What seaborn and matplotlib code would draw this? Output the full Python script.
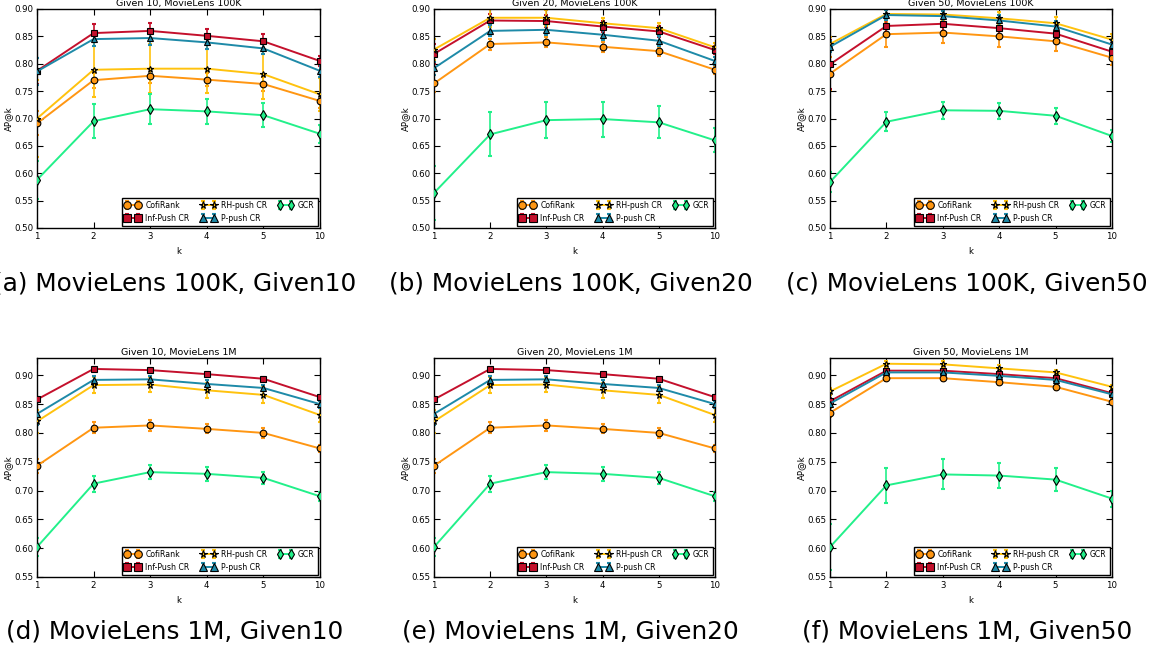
"""AP@k vs k for push-based collaborative ranking on MovieLens (six panels)."""

import matplotlib
matplotlib.use("Agg")
import matplotlib.pyplot as plt
from matplotlib.legend_handler import HandlerTuple
import numpy as np
import pandas as pd
import seaborn as sns

# ---------------------------------------------------------------- data
K_LABELS = ["1", "2", "3", "4", "5", "10"]
METHODS = ["CofiRank", "Inf-Push CR", "RH-push CR", "P-push CR", "GCR"]
COLORS = ["#FF9612", "#C4102C", "#FFC20E", "#1E8AA8", "#22F08A"]
MARKERS = ["o", "s", "*", "^", "d"]

# MovieLens 100K, Given 10
ML100K_G10 = {
    "CofiRank":    [0.691, 0.770, 0.778, 0.771, 0.763, 0.732],
    "Inf-Push CR": [0.787, 0.856, 0.860, 0.851, 0.841, 0.805],
    "RH-push CR":  [0.700, 0.789, 0.791, 0.791, 0.781, 0.744],
    "P-push CR":   [0.786, 0.845, 0.847, 0.839, 0.828, 0.787],
    "GCR":         [0.588, 0.695, 0.717, 0.713, 0.706, 0.672],
}
ML100K_G10_ERR = {
    "CofiRank":    [0.022, 0.014, 0.013, 0.012, 0.012, 0.012],
    "Inf-Push CR": [0.024, 0.017, 0.015, 0.013, 0.013, 0.010],
    "RH-push CR":  [0.070, 0.050, 0.045, 0.045, 0.045, 0.030],
    "P-push CR":   [0.025, 0.012, 0.012, 0.012, 0.010, 0.012],
    "GCR":         [0.035, 0.031, 0.027, 0.023, 0.022, 0.017],
}

# MovieLens 100K, Given 20
ML100K_G20 = {
    "CofiRank":    [0.764, 0.836, 0.839, 0.831, 0.823, 0.789],
    "Inf-Push CR": [0.818, 0.879, 0.878, 0.868, 0.859, 0.825],
    "RH-push CR":  [0.826, 0.884, 0.884, 0.874, 0.865, 0.830],
    "P-push CR":   [0.792, 0.860, 0.862, 0.853, 0.842, 0.805],
    "GCR":         [0.564, 0.671, 0.697, 0.699, 0.693, 0.660],
}
ML100K_G20_ERR = {
    "CofiRank":    [0.015, 0.010, 0.009, 0.009, 0.008, 0.007],
    "Inf-Push CR": [0.018, 0.012, 0.011, 0.010, 0.010, 0.008],
    "RH-push CR":  [0.020, 0.016, 0.015, 0.010, 0.009, 0.008],
    "P-push CR":   [0.012, 0.010, 0.010, 0.009, 0.009, 0.008],
    "GCR":         [0.050, 0.040, 0.033, 0.032, 0.029, 0.022],
}

# MovieLens 100K, Given 50
ML100K_G50 = {
    "CofiRank":    [0.782, 0.854, 0.857, 0.850, 0.841, 0.811],
    "Inf-Push CR": [0.799, 0.869, 0.873, 0.865, 0.855, 0.822],
    "RH-push CR":  [0.836, 0.891, 0.890, 0.883, 0.874, 0.844],
    "P-push CR":   [0.831, 0.889, 0.887, 0.879, 0.868, 0.835],
    "GCR":         [0.584, 0.694, 0.715, 0.714, 0.705, 0.668],
}
ML100K_G50_ERR = {
    "CofiRank":    [0.030, 0.023, 0.020, 0.019, 0.018, 0.014],
    "Inf-Push CR": [0.045, 0.015, 0.013, 0.012, 0.012, 0.010],
    "RH-push CR":  [0.012, 0.012, 0.012, 0.011, 0.011, 0.010],
    "P-push CR":   [0.010, 0.010, 0.010, 0.010, 0.010, 0.009],
    "GCR":         [0.018, 0.017, 0.015, 0.014, 0.015, 0.011],
}

# MovieLens 1M, Given 10 (Given 20 reads the same)
ML1M_G10 = {
    "CofiRank":    [0.743, 0.809, 0.813, 0.807, 0.800, 0.773],
    "Inf-Push CR": [0.858, 0.911, 0.909, 0.902, 0.894, 0.862],
    "RH-push CR":  [0.820, 0.883, 0.884, 0.874, 0.866, 0.831],
    "P-push CR":   [0.833, 0.892, 0.893, 0.885, 0.878, 0.850],
    "GCR":         [0.602, 0.712, 0.732, 0.729, 0.722, 0.690],
}
ML1M_G10_ERR = {
    "CofiRank":    [0.012, 0.010, 0.010, 0.008, 0.008, 0.006],
    "Inf-Push CR": [0.004, 0.003, 0.003, 0.003, 0.003, 0.003],
    "RH-push CR":  [0.020, 0.014, 0.013, 0.013, 0.014, 0.012],
    "P-push CR":   [0.020, 0.006, 0.006, 0.006, 0.006, 0.006],
    "GCR":         [0.015, 0.014, 0.012, 0.012, 0.011, 0.008],
}
ML1M_G20 = ML1M_G10
ML1M_G20_ERR = ML1M_G10_ERR

# MovieLens 1M, Given 50
ML1M_G50 = {
    "CofiRank":    [0.835, 0.895, 0.895, 0.888, 0.880, 0.854],
    "Inf-Push CR": [0.855, 0.908, 0.908, 0.902, 0.895, 0.869],
    "RH-push CR":  [0.872, 0.920, 0.919, 0.912, 0.905, 0.880],
    "P-push CR":   [0.851, 0.905, 0.905, 0.899, 0.892, 0.867],
    "GCR":         [0.602, 0.709, 0.728, 0.726, 0.719, 0.686],
}
ML1M_G50_ERR = {
    "CofiRank":    [0.008, 0.005, 0.005, 0.005, 0.005, 0.004],
    "Inf-Push CR": [0.006, 0.005, 0.005, 0.005, 0.005, 0.004],
    "RH-push CR":  [0.006, 0.005, 0.005, 0.005, 0.005, 0.004],
    "P-push CR":   [0.006, 0.005, 0.005, 0.005, 0.005, 0.004],
    "GCR":         [0.040, 0.031, 0.026, 0.022, 0.020, 0.014],
}

PANELS = [
    ("Given 10, MovieLens 100K", "(a) MovieLens 100K, Given10", ML100K_G10, ML100K_G10_ERR),
    ("Given 20, MovieLens 100K", "(b) MovieLens 100K, Given20", ML100K_G20, ML100K_G20_ERR),
    ("Given 50, MovieLens 100K", "(c) MovieLens 100K, Given50", ML100K_G50, ML100K_G50_ERR),
    ("Given 10, MovieLens 1M", "(d) MovieLens 1M, Given10", ML1M_G10, ML1M_G10_ERR),
    ("Given 20, MovieLens 1M", "(e) MovieLens 1M, Given20", ML1M_G20, ML1M_G20_ERR),
    ("Given 50, MovieLens 1M", "(f) MovieLens 1M, Given50", ML1M_G50, ML1M_G50_ERR),
]

# ---------------------------------------------------------------- style
sns.set_theme(style="white", rc={
    "xtick.direction": "in", "ytick.direction": "in",
    "xtick.top": True, "ytick.right": True,
    "xtick.bottom": True, "ytick.left": True,
    "xtick.major.size": 4, "ytick.major.size": 4,
    "xtick.major.width": 0.8, "ytick.major.width": 0.8,
    "xtick.major.pad": 3, "ytick.major.pad": 2.5,
    "axes.edgecolor": "black", "axes.linewidth": 1.0,
    "text.color": "black", "axes.labelcolor": "black",
    "xtick.color": "black", "ytick.color": "black",
})
plt.rcParams["font.family"] = ["DejaVu Sans"]

W, H = 1164, 650
fig = plt.figure(figsize=(W / 100, H / 100), dpi=100)

# axes boxes in pixels: (left, right, top, bottom)
LEFTS = [(37, 320), (434, 715), (830, 1112)]
ROWS = [(9, 228), (358, 577)]
CAPTION_Y = [283, 632]


def draw_panel(ax, title, means, errs, top_row):
    x = np.arange(len(K_LABELS))
    df = pd.DataFrame(
        [(m, xi, v) for m in METHODS for xi, v in zip(x, means[m])],
        columns=["method", "pos", "ap"],
    )
    sns.lineplot(
        data=df, x="pos", y="ap", hue="method", style="method",
        hue_order=METHODS, style_order=METHODS,
        palette=dict(zip(METHODS, COLORS)),
        markers=dict(zip(METHODS, MARKERS)), dashes=False,
        markersize=4.8, markeredgecolor="black", markeredgewidth=0.8,
        linewidth=1.4, legend=False, ax=ax, zorder=3,
    )
    lines = ax.get_lines()[-len(METHODS):]
    handles = []
    for m, c, line in zip(METHODS, COLORS, lines):
        eb = ax.errorbar(x, means[m], yerr=errs[m], fmt="none", ecolor=c,
                         elinewidth=1.2, capsize=1.6, capthick=1.5, zorder=2)
        handles.append((eb, line))

    ax.set_xlim(x[0], x[-1])
    ax.set_xticks(x)
    ax.set_xticklabels(K_LABELS)
    if top_row:
        ax.set_ylim(0.50, 0.90)
        ax.set_yticks(np.arange(0.50, 0.901, 0.05))
    else:
        ax.set_ylim(0.55, 0.93)
        ax.set_yticks(np.arange(0.55, 0.901, 0.05))
    ax.yaxis.set_major_formatter(matplotlib.ticker.FormatStrFormatter("%.2f"))
    ax.tick_params(labelsize=6.2, length=4)
    ax.set_xlabel("k", fontsize=6.2, labelpad=4)
    ax.set_ylabel("AP@k", fontsize=6.2, labelpad=1)
    ax.set_title(title, fontsize=6.8, pad=2)

    leg = ax.legend(
        handles, METHODS, handler_map={tuple: HandlerTuple(ndivide=1)},
        loc="lower right", ncol=3, numpoints=2, fontsize=5.6, markerscale=1.15,
        frameon=True, fancybox=False, edgecolor="black", framealpha=1,
        borderaxespad=0.3, borderpad=0.4, labelspacing=0.45,
        handlelength=2.0, handletextpad=0.6, columnspacing=1.4,
    )
    leg.get_frame().set_linewidth(1.0)
    leg.set_zorder(5)


for i, (title, caption, means, errs) in enumerate(PANELS):
    r, c = divmod(i, 3)
    l, rgt = LEFTS[c]
    t, b = ROWS[r]
    ax = fig.add_axes([l / W, 1 - b / H, (rgt - l) / W, (b - t) / H])
    draw_panel(ax, title, means, errs, top_row=(r == 0))
    fig.text(((l + rgt) / 2 - 4) / W, 1 - CAPTION_Y[r] / H, caption,
             ha="center", va="center", fontsize=17.8)

fig.savefig("out.png", dpi=100)
plt.close(fig)
